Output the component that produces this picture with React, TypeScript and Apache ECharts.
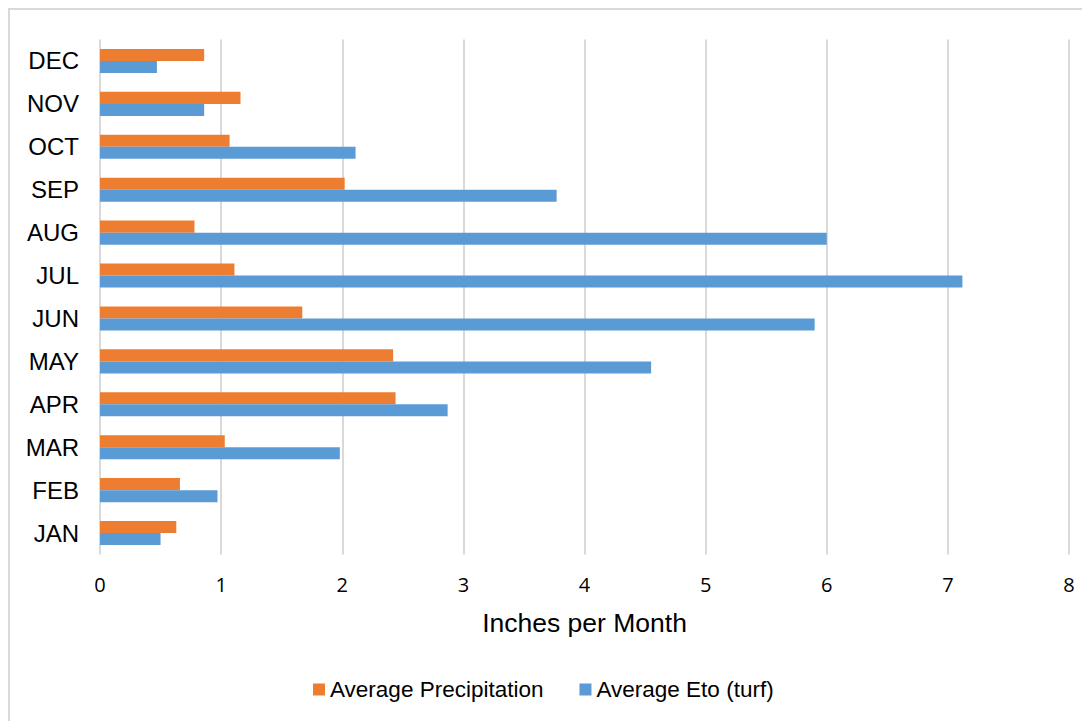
import React, { useEffect, useRef } from "react";
import * as echarts from "echarts";

const months = ["JAN", "FEB", "MAR", "APR", "MAY", "JUN", "JUL", "AUG", "SEP", "OCT", "NOV", "DEC"];
const precipitation = [0.63, 0.66, 1.03, 2.44, 2.42, 1.67, 1.11, 0.78, 2.02, 1.07, 1.16, 0.86];
const eto = [0.5, 0.97, 1.98, 2.87, 4.55, 5.9, 7.12, 6.0, 3.77, 2.11, 0.86, 0.47];
const xTicks = { min: 0, max: 8, interval: 1 };

export default function App() {
  const ref = useRef<HTMLDivElement>(null);
  useEffect(() => {
    document.body.style.overflow = "hidden";
    const chart = echarts.init(ref.current!, null, { renderer: "svg" });
    chart.setOption({
      animation: false,
      grid: { left: 90, top: 29.5, width: 969, height: 515, containLabel: false },
      legend: {
        data: ["Average Precipitation", "Average Eto (turf)"],
        bottom: 16,
        left: 298,
        itemWidth: 12,
        itemHeight: 12,
        itemGap: 36,
        icon: "rect",
        textStyle: { fontFamily: "Liberation Sans, Arial", fontSize: 22.5, color: "#000" },
      },
      xAxis: {
        type: "value",
        min: xTicks.min,
        max: xTicks.max,
        interval: xTicks.interval,
        name: "Inches per Month",
        nameLocation: "middle",
        nameGap: 55,
        nameTextStyle: { fontFamily: "Liberation Sans, Arial", fontSize: 26.5, color: "#000" },
        axisLine: { show: false },
        axisTick: { show: false },
        axisLabel: { fontFamily: "Open Sans", fontSize: 20, color: "#000", margin: 20 },
        splitLine: { show: true, lineStyle: { color: "#d9d9d9", width: 2 } },
      },
      yAxis: {
        type: "category",
        data: months,
        axisLine: { show: false },
        axisTick: { show: false },
        axisLabel: { fontFamily: "Liberation Sans, Arial", fontSize: 24, color: "#000", margin: 21 },
        splitLine: { show: false },
      },
      series: [
        {
          name: "Average Precipitation",
          type: "bar",
          data: precipitation,
          itemStyle: { color: "#ED7D31" },
          barGap: "0%",
          barCategoryGap: "44%",
        },
        {
          name: "Average Eto (turf)",
          type: "bar",
          data: eto,
          itemStyle: { color: "#5B9BD5" },
          barGap: "0%",
          barCategoryGap: "44%",
        },
      ],
    });
    return () => chart.dispose();
  }, []);
  return (
    <div
      style={{
        width: 1078,
        height: 720,
        borderTop: "2px solid #d9d9d9",
        borderLeft: "2px solid #d9d9d9",
        borderRight: "2px solid #d9d9d9",
        background: "#fff",
      }}
    >
      <div ref={ref} style={{ width: 1078, height: 712 }} />
    </div>
  );
}
